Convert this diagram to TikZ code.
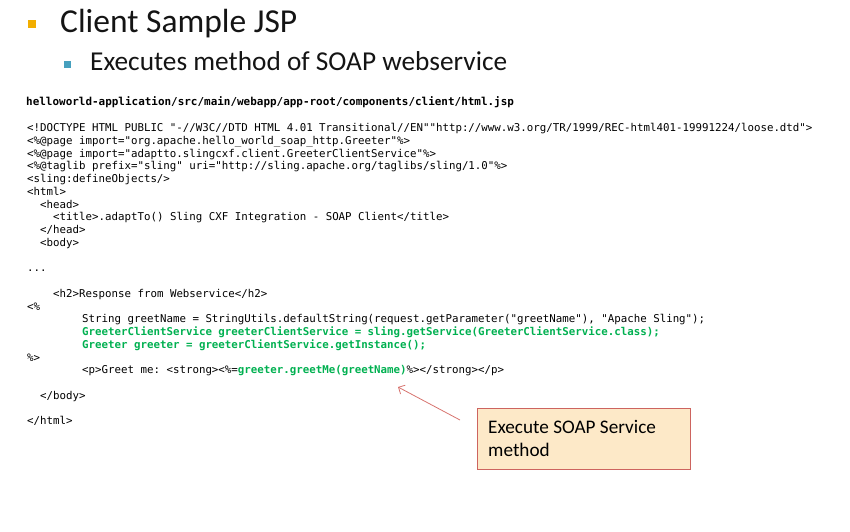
\documentclass[tikz,border=0pt]{standalone}
\usepackage{fontspec}
\setmainfont{Carlito}
\newfontfamily\monof{DejaVu Sans Mono}
\usetikzlibrary{arrows.meta}
\frenchspacing
\definecolor{bulorange}{RGB}{242,174,0}
\definecolor{bulteal}{RGB}{70,160,190}
\definecolor{codegreen}{RGB}{0,176,80}
\definecolor{calloutfill}{RGB}{253,233,200}
\definecolor{calloutdraw}{RGB}{205,100,95}
\definecolor{arrowred}{RGB}{215,115,110}
\tikzset{
  code/.style={anchor=base west, inner sep=0pt, font=\monof\frenchspacing\fontsize{10.78pt}{12pt}\selectfont},
  codeg/.style={code, text=codegreen, font=\monof\bfseries\frenchspacing\fontsize{10.78pt}{12pt}\selectfont},
  pathline/.style={anchor=base west, inner sep=0pt, font=\monof\bfseries\fontsize{10.95pt}{12pt}\selectfont},
  bulletbox/.style={inner sep=0pt, minimum size=#1, anchor=north west},
  callout/.style={draw=calloutdraw, fill=calloutfill, line width=0.8pt, anchor=north west, minimum width=213pt, minimum height=61pt, inner sep=0pt},
  callouttext/.style={anchor=base west, inner sep=0pt, font=\fontsize{19.2pt}{22.7pt}\selectfont},
  pointer/.style={draw=arrowred, line width=0.8pt, -{Straight Barb[length=5pt,width=10pt]}}
}
\newcommand{\gb}{\bfseries\color{codegreen}}
\begin{document}
\begin{tikzpicture}[x=1pt,y=1pt]
\useasboundingbox (0,0) rectangle (850,-531);
% bullets and headings
\node[bulletbox=8pt, fill=bulorange] (b1) at (28,-20) {};
\node[anchor=base west, inner sep=0pt, font=\fontsize{33.5pt}{36pt}\selectfont, text=black!92] (t1) at (60,-32) {Client Sample JSP};
\node[bulletbox=6.5pt, fill=bulteal] (b2) at (64,-61) {};
\node[anchor=base west, inner sep=0pt, font=\fontsize{27.3pt}{30pt}\selectfont, text=black!92] (t2) at (90,-70.5) {Executes method of SOAP webservice};
% file path
\node[pathline] (path) at (26,-105) {helloworld-application/src/main/webapp/app-root/components/client/html.jsp};
% code lines (baseline 131.5 + 12.75 i)
\node[code] (c1) at (27,-131.5) {<!DOCTYPE HTML PUBLIC "-//W3C//DTD HTML 4.01 Transitional//EN""http://www.w3.org/TR/1999/REC-html401-19991224/loose.dtd">};
\node[code] (c2) at (27,-144.25) {<\%@page import="org.apache.hello\_world\_soap\_http.Greeter"\%>};
\node[code] (c3) at (27,-157) {<\%@page import="adaptto.slingcxf.client.GreeterClientService"\%>};
\node[code] (c4) at (27,-169.75) {<\%@taglib prefix="sling" uri="http://sling.apache.org/taglibs/sling/1.0"\%>};
\node[code] (c5) at (27,-182.5) {<sling:defineObjects/>};
\node[code] (c6) at (27,-195.25) {<html>};
\node[code] (c7) at (40,-208) {<head>};
\node[code] (c8) at (53,-220.75) {<title>.adaptTo() Sling CXF Integration - SOAP Client</title>};
\node[code] (c9) at (40,-233.5) {</head>};
\node[code] (c10) at (40,-246.25) {<body>};
\node[code] (c12) at (27,-271.75) {...};
\node[code] (c14) at (53,-297.25) {<h2>Response from Webservice</h2>};
\node[code] (c15) at (27,-310) {<\%};
\node[code] (c16) at (82,-322.75) {String greetName = StringUtils.defaultString(request.getParameter("greetName"), "Apache Sling");};
\node[codeg] (c17) at (82,-335.5) {GreeterClientService greeterClientService = sling.getService(GreeterClientService.class);};
\node[codeg] (c18) at (82,-348.25) {Greeter greeter = greeterClientService.getInstance();};
\node[code] (c19) at (27,-361) {\%>};
\node[code] (c20) at (82,-373.75) {<p>Greet me: <strong><\%={\gb greeter.greetMe(greetName)}\%></strong></p>};
\node[code] (c22) at (40,-399.25) {</body>};
\node[code] (c24) at (27,-424.75) {</html>};
% callout
\node[callout] (box) at (477,-407.5) {};
\node[callouttext] (boxtext1) at (488,-433.3) {Execute SOAP Service};
\node[callouttext] (boxtext2) at (488,-456) {method};
\coordinate (tail) at (460,-420);
\coordinate (tip) at (398,-387);
\draw[pointer] (tail) -- (tip);
\end{tikzpicture}
\end{document}
